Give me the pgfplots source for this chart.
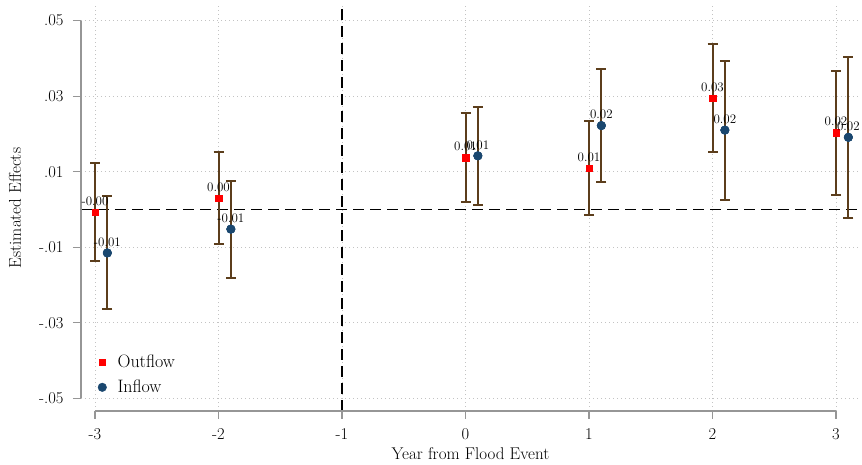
\documentclass[border=0pt]{standalone}
\usepackage{pgfplots}
\usepackage{pgfplotstable}
\pgfplotsset{compat=1.18}
\definecolor{stnavy}{RGB}{26,71,111}
\definecolor{ebrown}{RGB}{92,62,28}
\definecolor{axgray}{RGB}{150,150,150}
\definecolor{gridgray}{RGB}{195,195,195}

\pgfplotstableread{
x y hi lo lab
-3 -0.0007 0.0123 -0.0136 -0.00
-2 0.0030 0.0151 -0.0091 0.00
0 0.0137 0.0255 0.0019 0.01
1 0.0109 0.0235 -0.0015 0.01
2 0.0294 0.0437 0.0151 0.03
3 0.0203 0.0367 0.0038 0.02
}\outflow
\pgfplotstableread{
x y hi lo lab
-2.9 -0.0115 0.0036 -0.0263 -0.01
-1.9 -0.0052 0.0076 -0.0180 -0.01
0.1 0.0142 0.0272 0.0012 0.01
1.1 0.0222 0.0372 0.0074 0.02
2.1 0.0210 0.0394 0.0025 0.02
3.1 0.0191 0.0403 -0.0022 0.02
}\inflow

\begin{document}
\begin{tikzpicture}
\useasboundingbox (-81pt,-54pt) rectangle (781pt,411pt);
\begin{axis}[
  at={(0pt,0pt)}, anchor=south west,
  scale only axis, width=779pt, height=406pt,
  xmin=-3.1134, xmax=3.1943, ymin=-0.05332, ymax=0.05411,
  clip=false,
  axis line style={draw=none},
  xtick={-3,-2,-1,0,1,2,3},
  xticklabels={-3,-2,-1,0,1,2,3},
  ytick={-0.05,-0.03,-0.01,0.01,0.03,0.05},
  yticklabels={-.05,-.03,-.01,.01,.03,.05},
  scaled y ticks=false, scaled x ticks=false,
  xtick pos=bottom, ytick pos=left,
  tick align=outside,
  major tick length=8pt,
  tick style={axgray, line width=1.2pt},
  xmajorgrids, ymajorgrids,
  major grid style={gridgray, line width=1pt, dash pattern=on 1pt off 3pt},
  every tick label/.append style={font=\fontsize{16.5}{19}\selectfont},
  xticklabel style={yshift=-6pt},
  yticklabel style={xshift=-6pt},
  xlabel={Year from Flood Event},
  ylabel={Estimated Effects},
  label style={font=\fontsize{17}{20}\selectfont},
  xlabel style={at={(axis description cs:0.5,0)}, anchor=north, yshift=-33pt},
  ylabel style={at={(axis description cs:-0.0847,0.5)}, anchor=center},
  legend style={draw=none, fill=none, at={(axis description cs:0.0177,0.148)}, anchor=north west,
    font=\fontsize{18}{21}\selectfont, row sep=7pt,
    /tikz/every odd column/.append style={column sep=9pt}},
  legend cell align=left,
]
\addplot[black, line width=1.5pt, dash pattern=on 11pt off 6pt, forget plot] coordinates {(-3.1134,0) (3.1943,0)};
\addplot[black, line width=1.5pt, dash pattern=on 11pt off 6pt, forget plot] coordinates {(-1,-0.05332) (-1,0.05411)};
\addplot[only marks, mark=square*, mark size=3.2pt, color=red,
  error bars/.cd, y dir=both, y explicit,
  error bar style={ebrown, line width=2pt},
  error mark options={ebrown, mark size=5pt, line width=2pt, rotate=90}]
  table[x=x, y=y, y error plus expr=\thisrow{hi}-\thisrow{y}, y error minus expr=\thisrow{y}-\thisrow{lo}] {\outflow};
\addlegendentry{Outflow}
\addplot[only marks, mark=*, mark size=4.3pt, color=stnavy,
  error bars/.cd, y dir=both, y explicit,
  error bar style={ebrown, line width=2pt},
  error mark options={ebrown, mark size=5pt, line width=2pt, rotate=90}]
  table[x=x, y=y, y error plus expr=\thisrow{hi}-\thisrow{y}, y error minus expr=\thisrow{y}-\thisrow{lo}] {\inflow};
\addlegendentry{Inflow}
% markers redrawn on top of error bars
\addplot[only marks, mark=square*, mark size=3.2pt, color=red, forget plot,
  nodes near coords, point meta=explicit symbolic,
  every node near coord/.append style={font=\fontsize{13}{15}\selectfont, black, yshift=3pt}]
  table[x=x, y=y, meta=lab] {\outflow};
\addplot[only marks, mark=*, mark size=4.3pt, color=stnavy, forget plot,
  nodes near coords, point meta=explicit symbolic,
  every node near coord/.append style={font=\fontsize{13}{15}\selectfont, black, yshift=3pt}]
  table[x=x, y=y, meta=lab] {\inflow};
\draw[axgray, line width=1.2pt] (axis cs:-3.1134,-0.05) -- (axis cs:-3.1134,0.05);
\draw[axgray, line width=1.2pt] (axis cs:-3,-0.05332) -- (axis cs:3,-0.05332);
\end{axis}
\end{tikzpicture}
\end{document}
